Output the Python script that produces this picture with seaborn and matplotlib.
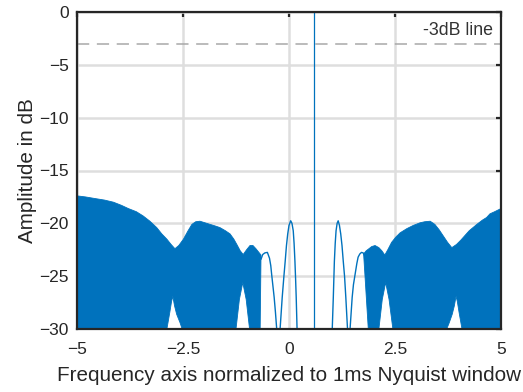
import matplotlib
matplotlib.use("Agg")
import matplotlib.pyplot as plt
import pandas as pd
import seaborn as sns

# Dense spectral band left of the carrier: upper envelope (left to right)
band_left_top_x = [-5.00, -4.80, -4.58, -4.35, -4.14, -3.95, -3.79, -3.60, -3.44, -3.28,
                   -3.12, -3.00, -2.88, -2.78, -2.69, -2.60, -2.49, -2.38, -2.29, -2.20,
                   -2.10, -1.98, -1.86, -1.74, -1.63, -1.50, -1.39, -1.30, -1.23, -1.15,
                   -1.08, -1.00, -0.92, -0.85, -0.78, -0.70, -0.66]
band_left_top_db = [-17.4, -17.5, -17.65, -17.8, -18.0, -18.3, -18.6, -18.9, -19.3, -19.8,
                    -20.4, -21.0, -21.5, -22.0, -22.4, -22.1, -21.5, -20.7, -20.1, -19.85,
                    -19.8, -19.95, -20.1, -20.25, -20.4, -20.7, -21.0, -21.5, -22.0, -22.6,
                    -22.95, -22.5, -22.1, -22.1, -22.4, -22.8, -23.0]
# ... and its lower edge with the two notches (right to left)
band_left_bottom_x = [-0.68, -0.93, -1.01, -1.09, -1.17, -1.25, -2.52, -2.57, -2.65, -2.70,
                      -2.74, -2.77, -2.81, -2.88, -5.00]
band_left_bottom_db = [-30.0, -30.0, -27.2, -25.6, -27.2, -30.0, -30.0, -29.4, -28.6, -27.8,
                       -26.9, -27.4, -28.4, -30.0, -30.0]

# Dense spectral band right of the carrier: upper envelope (left to right)
band_right_top_x = [1.76, 1.82, 1.87, 1.95, 2.03, 2.12, 2.19, 2.26, 2.33, 2.42,
                    2.52, 2.62, 2.78, 2.93, 3.09, 3.20, 3.33, 3.44, 3.54, 3.64,
                    3.74, 3.84, 3.95, 4.05, 4.25, 4.43, 4.56, 4.66, 4.74, 4.85, 5.00]
band_right_top_db = [-22.9, -22.6, -22.45, -22.2, -22.1, -22.3, -22.6, -23.0, -22.5, -21.8,
                     -21.3, -20.9, -20.5, -20.2, -19.95, -19.85, -19.8, -20.1, -20.6, -21.2,
                     -21.8, -22.3, -22.0, -21.6, -20.7, -20.1, -19.7, -19.45, -19.1, -18.9, -18.6]
# ... and its lower edge (right to left)
band_right_bottom_x = [5.00, 4.08, 4.01, 3.97, 3.94, 3.90, 3.85, 3.78, 3.72, 2.45,
                       2.36, 2.28, 2.20, 2.12, 1.87]
band_right_bottom_db = [-30.0, -30.0, -28.4, -27.4, -26.9, -27.8, -28.6, -29.4, -30.0, -30.0,
                        -27.2, -25.6, -27.2, -30.0, -30.0]

# Isolated side lobes around the carrier
lobe_a_x = [-0.66, -0.62, -0.57, -0.51, -0.46, -0.43, -0.41, -0.38, -0.35, -0.32, -0.29]
lobe_a_db = [-23.4, -22.95, -22.8, -22.75, -23.3, -24.0, -24.8, -25.9, -27.0, -28.4, -30.0]

lobe_b_x = [-0.21, -0.16, -0.12, -0.09, -0.06, -0.03, 0.00, 0.04, 0.07, 0.10,
            0.12, 0.14, 0.155, 0.17, 0.19]
lobe_b_db = [-30.0, -27.0, -25.0, -23.6, -22.1, -21.0, -20.2, -19.76, -20.0, -20.7,
             -21.9, -23.6, -25.2, -27.0, -30.0]

lobe_c_x = [1.02, 1.045, 1.07, 1.09, 1.11, 1.135, 1.16, 1.19, 1.22, 1.25, 1.28, 1.31, 1.34, 1.38]
lobe_c_db = [-30.0, -27.0, -23.6, -21.9, -20.7, -20.0, -19.76, -20.2, -21.0, -22.1,
             -23.6, -25.0, -27.0, -30.0]

lobe_d_x = [1.44, 1.49, 1.52, 1.56, 1.60, 1.63, 1.67, 1.71, 1.75, 1.79]
lobe_d_db = [-30.0, -27.0, -25.8, -24.8, -23.8, -23.2, -22.9, -22.75, -22.8, -23.1]

carrier_x = 0.6
threshold_db = -3
threshold_label = "-3dB line"

x_ticks = [-5, -2.5, 0, 2.5, 5]
x_tick_labels = ["\u22125", "\u22122.5", "0", "2.5", "5"]
y_ticks = [-30, -25, -20, -15, -10, -5, 0]
y_tick_labels = ["\u221230", "\u221225", "\u221220", "\u221215", "\u221210", "\u22125", "0"]

BLUE = "#0072BD"
INK = "#262626"

sns.set_theme(style="white")
plt.rcParams["font.family"] = ["Liberation Sans", "DejaVu Sans"]

fig = plt.figure(figsize=(5.23, 3.92), dpi=100)
ax = fig.add_axes([77 / 523, 1 - 329 / 392, 424 / 523, 317 / 392])

# Filled spectral bands
for top_x, top_y, bot_x, bot_y in [
    (band_left_top_x, band_left_top_db, band_left_bottom_x, band_left_bottom_db),
    (band_right_top_x, band_right_top_db, band_right_bottom_x, band_right_bottom_db),
]:
    ax.fill(list(top_x) + list(bot_x), list(top_y) + list(bot_y),
            color=BLUE, linewidth=0.6, edgecolor=BLUE, zorder=3)

# Side lobes as thin lines
lobes = pd.concat([
    pd.DataFrame({"f": xs, "db": ys, "lobe": name})
    for name, xs, ys in [("a", lobe_a_x, lobe_a_db), ("b", lobe_b_x, lobe_b_db),
                         ("c", lobe_c_x, lobe_c_db), ("d", lobe_d_x, lobe_d_db)]
])
for name, grp in lobes.groupby("lobe"):
    sns.lineplot(data=grp, x="f", y="db", sort=False, estimator=None,
                 color=BLUE, linewidth=1.0, ax=ax, zorder=3)

# Carrier line
ax.axvline(carrier_x, color=BLUE, linewidth=0.9, zorder=3)

# -3 dB reference line with its label
ax.axhline(threshold_db, color="#a8a8a8", linewidth=1.1, dashes=(8, 5), zorder=2)
ax.text(4.81, -2.15, threshold_label, ha="right", va="baseline",
        fontsize=12.8, color="#333333", zorder=4)

ax.set_xlim(-5, 5)
ax.set_ylim(-30, 0)
ax.set_xticks(x_ticks, labels=x_tick_labels)
ax.set_yticks(y_ticks, labels=y_tick_labels)

ax.grid(True, color="#dedede", linewidth=1.8, zorder=0)
ax.set_axisbelow(True)

for side in ["left", "right", "top", "bottom"]:
    ax.spines[side].set_visible(True)
    ax.spines[side].set_color(INK)
    ax.spines[side].set_linewidth(1.6)
    ax.spines[side].set_zorder(5)

ax.tick_params(axis="both", which="major", direction="in", length=3.5, width=1.6,
               color=INK, labelcolor=INK, labelsize=12.5, top=True, right=True,
               labeltop=False, labelright=False)
ax.tick_params(axis="x", pad=9)
ax.tick_params(axis="y", pad=6)

ax.set_xlabel("Frequency axis normalized to 1ms Nyquist window", fontsize=14.9, color=INK)
ax.set_ylabel("Amplitude in dB", fontsize=14.9, color=INK)
ax.xaxis.set_label_coords(0.5, -0.118)
ax.yaxis.set_label_coords(-0.094, 0.5)

fig.savefig("out.png", dpi=100)
